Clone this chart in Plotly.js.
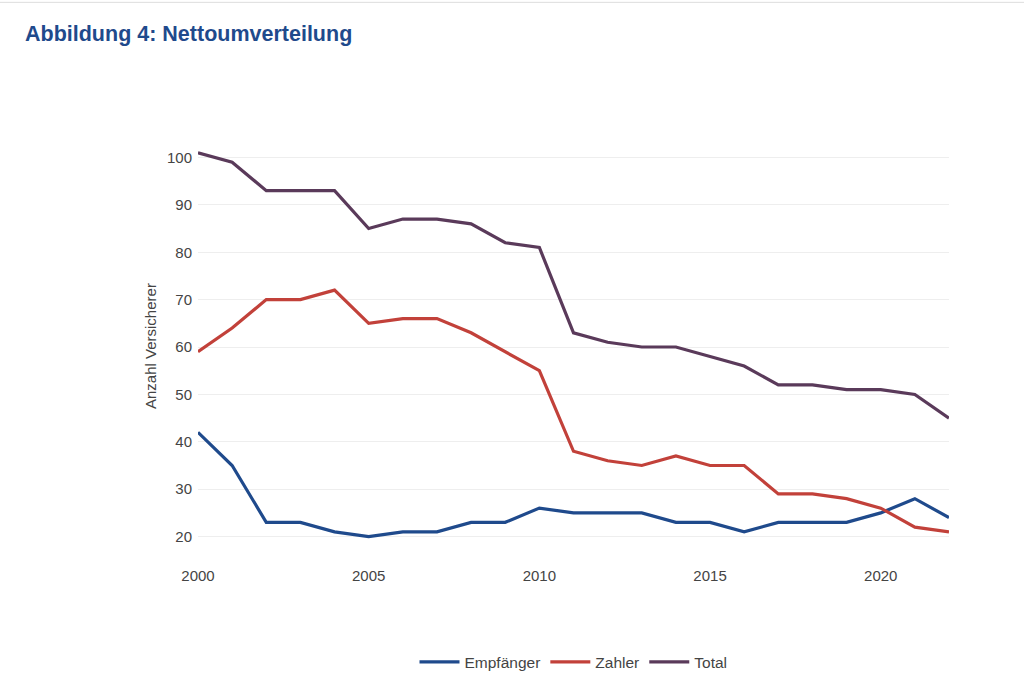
<!DOCTYPE html>
<html>
<head>
<meta charset="utf-8">
<script src="https://cdn.plot.ly/plotly-3.0.1.min.js"></script>
<style>html,body{margin:0;padding:0;background:#fff;}#chart{width:1024px;height:686px;}</style>
</head>
<body>
<div id="chart"></div>
<script>
const years = [2000,2001,2002,2003,2004,2005,2006,2007,2008,2009,2010,2011,2012,2013,2014,2015,2016,2017,2018,2019,2020,2021,2022];
const empfaenger = [42,35,23,23,21,20,21,21,23,23,26,25,25,25,23,23,21,23,23,23,25,28,24];
const zahler = [59,64,70,70,72,65,66,66,63,59,55,38,36,35,37,35,35,29,29,28,26,22,21];
const total = [101,99,93,93,93,85,87,87,86,82,81,63,61,60,60,58,56,52,52,51,51,50,45];
const seriesNames = ["Empfänger","Zahler","Total"];
const colors = ["#1f4a8c","#c2413a","#5a3a5a"];
const xTicks = [2000,2005,2010,2015,2020];
const yTicks = [20,30,40,50,60,70,80,90,100];

const data = [empfaenger, zahler, total].map((vals, i) => ({
  x: years, y: vals, type: "scatter", mode: "lines", name: seriesNames[i],
  line: {color: colors[i], width: 3.2}
}));

const mT = 147.5, mB = 120.5, plotH = 686 - mT - mB;
const layout = {
  width: 1024, height: 686,
  paper_bgcolor: "#fff", plot_bgcolor: "#fff",
  font: {family: "Liberation Sans, Arial, sans-serif", color: "#444", size: 15},
  title: {text: "<b>Abbildung 4: Nettoumverteilung</b>", x: 25/1024, xanchor: "left", xref: "container",
          y: 1 - 33/686, yanchor: "middle", yref: "container",
          font: {size: 21.5, color: "#1f4a8c", family: "Liberation Sans, Arial, sans-serif"}},
  margin: {l: 198, r: 75, t: mT, b: mB, autoexpand: false},
  xaxis: {range: [2000, 2022], tickvals: xTicks, showgrid: false, zeroline: false, automargin: false,
          showline: false, ticks: "", tickfont: {size: 15, color: "#444"}},
  yaxis: {range: [14, 102], tickvals: yTicks, showgrid: true, gridcolor: "#eeeeee", automargin: false,
          zeroline: false, showline: false, ticks: "", ticklabelstandoff: 5,
          tickfont: {size: 15, color: "#444"}},
  annotations: [{text: "Anzahl Versicherer", textangle: -90, xref: "paper", yref: "paper",
                 x: (150 - 198) / 751, y: (686 - mB - 346) / plotH, xanchor: "center", yanchor: "middle",
                 showarrow: false, font: {size: 15, color: "#444"}}],
  legend: {orientation: "h", x: 0.5, xanchor: "center", y: -(663 - (686 - mB)) / plotH, yanchor: "middle",
           itemwidth: 40, font: {size: 15.5, color: "#444"}},
  shapes: [{type: "line", xref: "paper", yref: "paper", x0: -198/751, x1: 1 + 75/751,
            y0: 1 + (mT - 1.5) / plotH, y1: 1 + (mT - 1.5) / plotH,
            line: {color: "#dddddd", width: 1}}],
  showlegend: true
};
Plotly.newPlot("chart", data, layout, {displayModeBar: false, staticPlot: true});
</script>
</body>
</html>
